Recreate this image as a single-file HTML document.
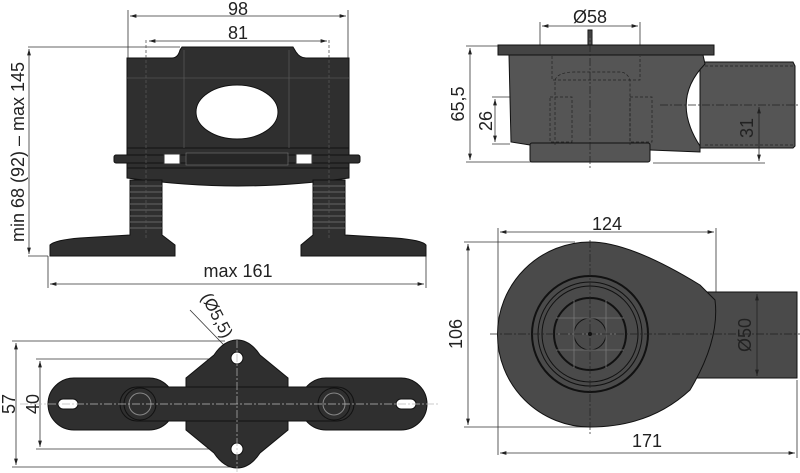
<!DOCTYPE html>
<html><head><meta charset="utf-8"><style>
html,body{margin:0;padding:0;background:#fff}
svg{display:block}
text{font-family:"Liberation Sans",sans-serif;fill:#222}
</style></head><body>
<svg width="800" height="473" viewBox="0 0 800 473" xmlns="http://www.w3.org/2000/svg">
<defs>
<marker id="a" viewBox="0 0 10 10" refX="10" refY="5" markerWidth="8" markerHeight="8" orient="auto-start-reverse"><path d="M0,2 L10,5 L0,8 z" fill="#222"/></marker>
</defs>
<g stroke="#333" stroke-width="0.8" fill="none">
<line x1="128" y1="10" x2="128" y2="58"/><line x1="348" y1="10" x2="348" y2="58"/>
<line x1="130" y1="16" x2="346" y2="16" marker-start="url(#a)" marker-end="url(#a)"/>
<line x1="149" y1="41" x2="327" y2="41" marker-start="url(#a)" marker-end="url(#a)"/>
<line x1="28" y1="47" x2="180" y2="47"/><line x1="28" y1="256" x2="48" y2="256"/>
<line x1="29" y1="49" x2="29" y2="254" marker-start="url(#a)" marker-end="url(#a)"/>
<line x1="48" y1="256" x2="48" y2="288"/><line x1="426" y1="256" x2="426" y2="288"/>
<line x1="50" y1="284" x2="424" y2="284" marker-start="url(#a)" marker-end="url(#a)"/>
</g>
<g fill="#2f2f2f" stroke="#111" stroke-width="1">
<path d="M127,58 L172,58 Q178,58 180,50 L182,47 L293,47 L296,52 Q300,58 306,58 L349,58 L349,150 L127,150 Z"/>
<rect x="127" y="148" width="222" height="22"/>
<path d="M127,168 L349,168 L349,178 Q290,186 238,186 Q186,186 127,178 Z"/>
<rect x="114" y="155" width="246" height="8" rx="2"/>
<path d="M130,180 L162,180 L162,235 L175,245 L175,256 L50,256 L50,245 Q55,240 80,238 L130,235 Z"/>
<path d="M313,180 L345,180 L345,235 L395,238 Q422,240 426,245 L426,256 L301,256 L301,245 L313,235 Z"/>
</g>
<g stroke="#666" stroke-width="1">
<path d="M130,186 H162 M130,192 H162 M130,198 H162 M130,204 H162 M130,210 H162 M130,216 H162 M130,222 H162 M130,228 H162 M313,186 H345 M313,192 H345 M313,198 H345 M313,204 H345 M313,210 H345 M313,216 H345 M313,222 H345 M313,228 H345"/>
</g>
<g stroke="#555" stroke-width="0.8" fill="none">
<line x1="127" y1="78" x2="349" y2="78"/><line x1="184" y1="50" x2="184" y2="148"/><line x1="289" y1="50" x2="289" y2="148"/>
<line x1="146" y1="40" x2="146" y2="240" stroke-dasharray="3,2"/><line x1="329" y1="40" x2="329" y2="240" stroke-dasharray="3,2"/>
</g>
<ellipse cx="237" cy="112" rx="41" ry="27" fill="#fff" stroke="#111"/>
<rect x="186" y="153" width="102" height="12" fill="#262626" stroke="#777" stroke-width="0.6"/>
<rect x="164" y="154" width="16" height="10" fill="#fff" stroke="#333"/><rect x="296" y="154" width="16" height="10" fill="#fff" stroke="#333"/>
<!-- top-right -->
<g stroke="#333" stroke-width="0.8" fill="none">
<line x1="540" y1="22" x2="540" y2="45"/><line x1="640" y1="22" x2="640" y2="45"/>
<line x1="542" y1="26" x2="638" y2="26" marker-start="url(#a)" marker-end="url(#a)"/>
<line x1="466" y1="46" x2="498" y2="46"/><line x1="466" y1="162" x2="532" y2="162"/>
<line x1="470" y1="48" x2="470" y2="160" marker-start="url(#a)" marker-end="url(#a)"/>
<line x1="492" y1="97" x2="530" y2="97"/><line x1="492" y1="144" x2="510" y2="144"/>
<line x1="495" y1="99" x2="495" y2="142" marker-start="url(#a)" marker-end="url(#a)"/>
<line x1="653" y1="163" x2="765" y2="163"/>
</g>
<g fill="#555" stroke="#111" stroke-width="1">
<path d="M700,62 L793,62 L795,66 L795,146 L793,148 L700,148 Z"/>
<path d="M509,55 L703,55 L705,64 Q670,100 700,146 L700,152 L650,150 L530,145 L511,142 Z"/>
<rect x="530" y="143" width="120" height="19" rx="2"/>
<rect x="498" y="45" width="216" height="10" fill="#444"/>
<rect x="588" y="30" width="4" height="15"/>
</g>
<g stroke="#222" stroke-width="0.7" fill="none" stroke-dasharray="3,2">
<path d="M552,56 L552,80 L640,80 L640,56"/><rect x="550" y="97" width="22" height="45"/><rect x="630" y="97" width="22" height="45"/>
<path d="M555,145 L555,80 Q558,72 575,72 L620,72 Q627,72 630,80 L630,145"/>
<line x1="705" y1="66" x2="795" y2="66"/><line x1="705" y1="145" x2="795" y2="145"/>
<line x1="590" y1="30" x2="590" y2="168" stroke-dasharray="8,2,2,2"/><line x1="660" y1="105" x2="800" y2="105" stroke-dasharray="8,2,2,2"/>
</g>
<line x1="759" y1="107" x2="759" y2="161" stroke="#222" stroke-width="0.8" marker-start="url(#a)" marker-end="url(#a)"/>
<!-- bottom-right -->
<g stroke="#333" stroke-width="0.8" fill="none">
<line x1="498" y1="228" x2="498" y2="455"/><line x1="716" y1="228" x2="716" y2="292"/>
<line x1="500" y1="232" x2="714" y2="232" marker-start="url(#a)" marker-end="url(#a)"/>
<line x1="464" y1="242" x2="575" y2="242"/><line x1="464" y1="427" x2="590" y2="427"/>
<line x1="468" y1="244" x2="468" y2="425" marker-start="url(#a)" marker-end="url(#a)"/>
<line x1="797" y1="380" x2="797" y2="458"/>
<line x1="500" y1="453" x2="795" y2="453" marker-start="url(#a)" marker-end="url(#a)"/>
</g>
<g fill="#4a4a4a" stroke="#111" stroke-width="1">
<rect x="697" y="292" width="100" height="86"/>
<path d="M590,242 Q630,242 700,285 L715,300 Q720,340 690,390 Q650,427 590,427 A92,92 0 0 1 590,242 Z"/>
</g>
<line x1="757" y1="294" x2="757" y2="376" stroke="#222" stroke-width="0.8" marker-start="url(#a)" marker-end="url(#a)"/>
<g fill="none" stroke="#111">
<circle cx="590" cy="334" r="58" stroke-width="2"/><circle cx="590" cy="334" r="52"/><circle cx="590" cy="334" r="48"/>
<circle cx="590" cy="334" r="36" stroke-width="2"/><circle cx="590" cy="334" r="16"/>
<path d="M556,318 H624 M556,334 H624 M556,350 H624 M574,300 V368 M606,300 V368" stroke="#777" stroke-width="0.8"/>
<line x1="490" y1="334" x2="800" y2="334" stroke="#222" stroke-width="0.7" stroke-dasharray="8,2,2,2"/>
<line x1="590" y1="240" x2="590" y2="435" stroke="#222" stroke-width="0.7" stroke-dasharray="8,2,2,2"/>
</g>
<circle cx="590" cy="334" r="2" fill="#111"/>
<!-- bottom-left -->
<g stroke="#333" stroke-width="0.8" fill="none">
<line x1="12" y1="341" x2="225" y2="341"/><line x1="12" y1="467" x2="235" y2="467"/>
<line x1="16" y1="343" x2="16" y2="465" marker-start="url(#a)" marker-end="url(#a)"/>
<line x1="36" y1="359" x2="210" y2="359"/><line x1="36" y1="449" x2="235" y2="449"/>
<line x1="40" y1="361" x2="40" y2="447" marker-start="url(#a)" marker-end="url(#a)"/>
<line x1="190" y1="310" x2="248" y2="370"/>
</g>
<g fill="#2f2f2f" stroke="#111" stroke-width="1">
<path d="M237,340 Q250,340 260,355 L288,378 L288,430 L260,453 Q250,468 237,468 Q224,468 214,453 L186,430 L186,378 L214,355 Q224,340 237,340 Z"/>
<rect x="48" y="378" width="127" height="52" rx="26"/>
<rect x="300" y="378" width="127" height="52" rx="26"/>
<rect x="120" y="387" width="234" height="34" rx="17"/>
<circle cx="140" cy="404" r="16"/><circle cx="334" cy="404" r="16"/>
</g>
<g fill="#fff" stroke="#111">
<rect x="58" y="399" width="20" height="10" rx="5"/><rect x="396" y="399" width="20" height="10" rx="5"/>
<circle cx="237" cy="358" r="6"/><circle cx="237" cy="449" r="6"/>
</g>
<g stroke="#888" stroke-width="1" fill="none">
<circle cx="140" cy="404" r="11"/><circle cx="334" cy="404" r="11"/>
<line x1="20" y1="404" x2="440" y2="404" stroke="#bbb" stroke-width="0.7" stroke-dasharray="8,2,2,2"/>
<line x1="237" y1="340" x2="237" y2="472" stroke="#bbb" stroke-width="0.7" stroke-dasharray="8,2,2,2"/>
</g>
<!-- labels -->
<text x="238" y="15" font-size="18" text-anchor="middle">98</text>
<text x="238" y="39" font-size="18" text-anchor="middle">81</text>
<text x="238" y="277" font-size="18" text-anchor="middle">max 161</text>
<text transform="translate(24,152) rotate(-90)" font-size="18" text-anchor="middle">min 68 (92) – max 145</text>
<text x="590" y="23" font-size="18" text-anchor="middle">Ø58</text>
<text transform="translate(464,104) rotate(-90)" font-size="18" text-anchor="middle">65,5</text>
<text transform="translate(492,121) rotate(-90)" font-size="18" text-anchor="middle">26</text>
<text transform="translate(753,128) rotate(-90)" font-size="18" text-anchor="middle">31</text>
<text x="607" y="230" font-size="18" text-anchor="middle">124</text>
<text x="647" y="447" font-size="18" text-anchor="middle">171</text>
<text transform="translate(462,334) rotate(-90)" font-size="18" text-anchor="middle">106</text>
<text transform="translate(751,335) rotate(-90)" font-size="18" text-anchor="middle">Ø50</text>
<text transform="translate(212,318) rotate(62)" font-size="17" text-anchor="middle">(Ø5,5)</text>
<text transform="translate(15,404) rotate(-90)" font-size="18" text-anchor="middle">57</text>
<text transform="translate(39,404) rotate(-90)" font-size="18" text-anchor="middle">40</text>
</svg>
</body></html>
